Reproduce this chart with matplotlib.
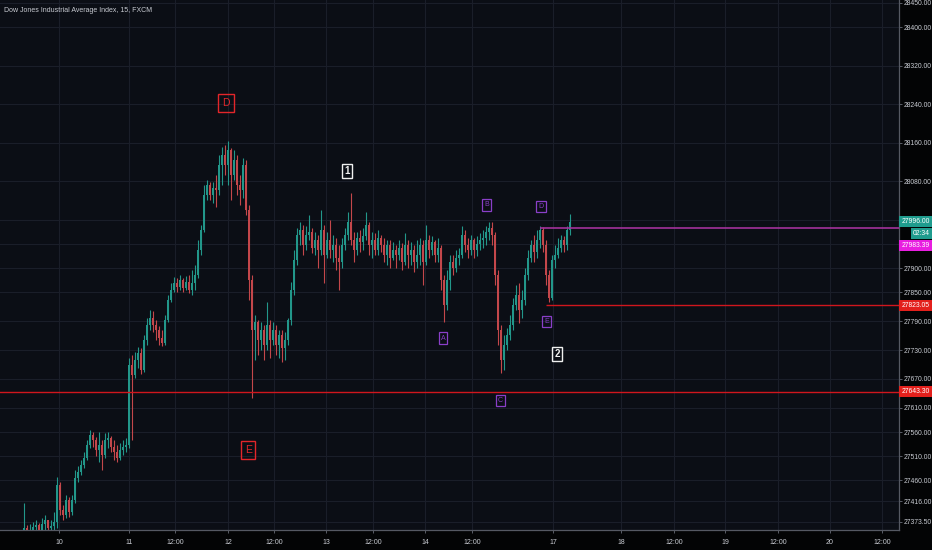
import matplotlib
matplotlib.use("Agg")
import matplotlib.pyplot as plt
import matplotlib.transforms as mtransforms
import numpy as np

# ---------------- data (prices) ----------------
first_open = 27357
closes = [27361, 27353, 27357, 27363, 27367, 27357, 27369, 27378, 27361, 27365,
          27373, 27450, 27398, 27388, 27419, 27394, 27419, 27465, 27477, 27492,
          27506, 27533, 27554, 27543, 27523, 27533, 27512, 27543, 27548, 27529,
          27519, 27506, 27523, 27529, 27533, 27699, 27678, 27709, 27724, 27689,
          27751, 27782, 27796, 27782, 27772, 27755, 27745, 27792, 27834, 27855,
          27869, 27861, 27875, 27859, 27871, 27855, 27869, 27886, 27937, 27979,
          28052, 28072, 28052, 28066, 28062, 28114, 28135, 28114, 28145, 28093,
          28124, 28072, 28062, 28114, 28020, 27875, 27772, 27788, 27751, 27772,
          27740, 27782, 27751, 27772, 27740, 27761, 27734, 27751, 27792, 27855,
          27917, 27969, 27979, 27948, 27969, 27975, 27942, 27958, 27937, 27979,
          27927, 27958, 27937, 27948, 27921, 27913, 27948, 27969, 27996, 27958,
          27937, 27962, 27954, 27967, 27989, 27948, 27958, 27937, 27962, 27948,
          27927, 27948, 27921, 27937, 27927, 27942, 27913, 27948, 27927, 27937,
          27913, 27927, 27948, 27913, 27958, 27937, 27954, 27927, 27942, 27875,
          27823, 27875, 27913, 27900, 27921, 27927, 27969, 27948, 27937, 27958,
          27937, 27950, 27958, 27962, 27975, 27983, 27969, 27886, 27772, 27709,
          27740, 27761, 27782, 27823, 27844, 27813, 27834, 27886, 27921, 27948,
          27933, 27958, 27979, 27948, 27886, 27838, 27917, 27927, 27942, 27958,
          27948, 27979, 27996]
highs = [27413, 27367, 27369, 27373, 27378, 27371, 27382, 27388, 27373, 27378,
         27394, 27467, 27456, 27409, 27429, 27425, 27429, 27481, 27490, 27502,
         27519, 27543, 27564, 27560, 27550, 27560, 27543, 27558, 27560, 27552,
         27543, 27533, 27537, 27543, 27548, 27714, 27720, 27726, 27736, 27734,
         27761, 27796, 27813, 27811, 27792, 27780, 27772, 27803, 27844, 27869,
         27881, 27879, 27886, 27879, 27884, 27886, 27896, 27906, 27958, 27989,
         28072, 28083, 28079, 28079, 28093, 28135, 28151, 28155, 28164, 28149,
         28145, 28135, 28093, 28128, 28124, 28031, 27886, 27803, 27792, 27788,
         27782, 27830, 27792, 27788, 27782, 27772, 27772, 27767, 27796, 27871,
         27937, 27983, 27996, 27989, 27987, 28010, 27983, 27975, 27969, 28020,
         27989, 27975, 28000, 27969, 27962, 27948, 27962, 27983, 28016, 28056,
         27975, 27975, 27979, 27983, 28016, 27996, 27975, 27973, 27979, 27969,
         27962, 27958, 27958, 27954, 27948, 27958, 27952, 27973, 27958, 27954,
         27948, 27958, 27962, 27958, 27989, 27969, 27967, 27958, 27962, 27948,
         27886, 27896, 27927, 27927, 27937, 27942, 27987, 27979, 27962, 27969,
         27962, 27967, 27973, 27979, 27987, 27996, 27996, 27975, 27896, 27782,
         27761, 27776, 27803, 27838, 27865, 27869, 27855, 27900, 27937, 27958,
         27969, 27979, 27987, 27985, 27958, 27896, 27927, 27948, 27962, 27969,
         27967, 27987, 28012]
lows = [27336, 27326, 27326, 27336, 27346, 27336, 27346, 27353, 27340, 27346,
        27353, 27361, 27388, 27378, 27382, 27384, 27388, 27413, 27456, 27471,
        27485, 27502, 27527, 27529, 27510, 27498, 27481, 27506, 27527, 27519,
        27502, 27498, 27502, 27512, 27519, 27527, 27543, 27672, 27693, 27680,
        27685, 27740, 27772, 27767, 27751, 27740, 27738, 27740, 27788, 27830,
        27850, 27850, 27855, 27850, 27855, 27848, 27844, 27855, 27879, 27927,
        27975, 28041, 28041, 28035, 28027, 28052, 28072, 28093, 28072, 28041,
        28083, 28052, 28031, 28045, 28010, 27834, 27631, 27709, 27720, 27730,
        27709, 27730, 27713, 27740, 27720, 27713, 27705, 27709, 27740, 27782,
        27844, 27906, 27948, 27927, 27937, 27958, 27931, 27927, 27900, 27927,
        27869, 27921, 27921, 27913, 27896, 27855, 27900, 27937, 27958, 27948,
        27913, 27927, 27933, 27937, 27958, 27927, 27921, 27927, 27927, 27933,
        27913, 27906, 27900, 27917, 27900, 27917, 27896, 27906, 27900, 27906,
        27892, 27900, 27906, 27865, 27906, 27921, 27927, 27913, 27913, 27855,
        27788, 27813, 27855, 27886, 27892, 27906, 27921, 27933, 27921, 27927,
        27921, 27925, 27937, 27942, 27948, 27958, 27948, 27865, 27740, 27682,
        27689, 27730, 27751, 27772, 27813, 27786, 27796, 27823, 27875, 27913,
        27913, 27921, 27942, 27933, 27865, 27830, 27834, 27900, 27921, 27933,
        27933, 27937, 27969]

price_ticks = [28450, 28400, 28320, 28240, 28160, 28080, 27900, 27850, 27790,
               27730, 27670, 27610, 27560, 27510, 27460, 27416, 27373.5]
hidden_grid = [28000, 27950]
time_labels = ['10', '11', '12:00', '12', '12:00', '13', '12:00', '14', '12:00',
               '17', '18', '12:00', '19', '12:00', '20', '12:00']
time_pos = [11.67, 35, 50.33, 68, 83.33, 100.67, 116.33, 133.67, 149.33,
            176.33, 199, 216.67, 233.67, 251.33, 268.67, 286]

support_level = 27643.30
e_level = 27823.05
d_level = 27983.39
last_price = 27996.00
countdown = '02:34'

# label annotations: (text, bar position, price, style)
annotations = [
    ('D', 67.3, 28242, 'red'), ('E', 74.7, 27523, 'red'),
    ('1', 107.7, 28101, 'white'), ('2', 177.7, 27722, 'white'),
    ('A', 139.7, 27755, 'purple'), ('B', 154.3, 28031, 'purple'),
    ('C', 158.7, 27626, 'purple'), ('D', 172.3, 28027, 'purple'),
    ('E', 174.3, 27790, 'purple'),
]

# ---------------- styling ----------------
FONT = ['Liberation Sans', 'DejaVu Sans']
plt.rcParams['font.family'] = FONT
BG = '#0b0e15'
UP = '#22978a'
DN = '#c4474b'
GRID = '#1a1e29'
TXT = '#c8cbd2'
LBL = 4.9

fig = plt.figure(figsize=(9.32, 5.5), dpi=100, facecolor='#030405')
ax = fig.add_axes([0, 20 / 550, 899 / 932, 530 / 550])
ax.set_facecolor(BG)

o = np.array([first_open] + closes[:-1], dtype=float)
c = np.array(closes, dtype=float)
h = np.array(highs, dtype=float)
l = np.array(lows, dtype=float)
x = np.arange(len(c))
cols = [UP if cc >= oo else DN for oo, cc in zip(o, c)]

# grid
for yv in price_ticks + hidden_grid:
    ax.axhline(yv, color=GRID, lw=0.8, zorder=0)
for xv in time_pos:
    ax.axvline(xv, color=GRID, lw=0.8, zorder=0)

ax.vlines(x, l, h, colors=cols, linewidth=0.8, zorder=2)
ax.bar(x, np.maximum(np.abs(c - o), 1.0), bottom=np.minimum(o, c), width=0.62,
       color=cols, linewidth=0, zorder=3)

# horizontal levels
ax.axhline(support_level, color='#d0161d', lw=1.0, zorder=4)
ax.hlines(d_level, 172, 292, color='#a3329b', lw=1.2, zorder=4)
ax.hlines(e_level, 174, 292, color='#d0161d', lw=1.0, zorder=4)

ax.set_xlim(-8, 291.667)
ax.set_ylim(27356.8, 28456)

# axes
ax.yaxis.tick_right()
ax.set_yticks(price_ticks + hidden_grid)
ax.set_yticklabels(['%.2f' % v for v in price_ticks] + ['', ''])
ax.set_xticks(time_pos)
ax.set_xticklabels(time_labels)
ax.tick_params(axis='both', colors='#5a5e68', labelcolor=TXT, labelsize=LBL,
               length=2.5, width=0.7)
ax.tick_params(axis='y', pad=1.0)
ax.tick_params(axis='x', pad=4, labelsize=5.0)
for s in ['top', 'left']:
    ax.spines[s].set_visible(False)
for s in ['right', 'bottom']:
    ax.spines[s].set_color('#555963')
    ax.spines[s].set_linewidth(0.9)

# price boxes on the right axis
bt = mtransforms.blended_transform_factory(ax.transAxes, ax.transData)

def price_box(val, text, fc, dy=0, right=False):
    tr = mtransforms.offset_copy(bt, fig=fig, x=0, y=dy, units='dots')
    xx = 1.0 + (31 / 899 if right else 2.5 / 899)
    ax.text(xx, val, text, transform=tr, ha='right' if right else 'left',
            va='center', fontsize=LBL, color='white', clip_on=False, zorder=10,
            bbox=dict(boxstyle='square,pad=0.3', fc=fc, ec='none'))

price_box(last_price, '%.2f' % last_price, '#1f9c8e')
price_box(last_price, countdown, '#1f9c8e', dy=-12, right=True)
price_box(d_level, '%.2f' % d_level, '#e81ee0', dy=-18)
price_box(e_level, '%.2f' % e_level, '#e3201c')
price_box(support_level, '%.2f' % support_level, '#e3201c')

# wave labels
styles = {
    'red': dict(color='#e3262a', fs=7.5, pad=0.38, weight='normal', lw=1.0),
    'white': dict(color='#f0f0f0', fs=7.0, pad=0.22, weight='bold', lw=1.0),
    'purple': dict(color='#8a3fc8', fs=5.0, pad=0.3, weight='normal', lw=0.9),
}
for txt, bx, py, st in annotations:
    s = styles[st]
    ax.text(bx, py, txt, ha='center', va='center', fontsize=s['fs'],
            color=s['color'], fontweight=s['weight'], zorder=8,
            bbox=dict(boxstyle='square,pad=%.2f' % s['pad'], fc='none',
                      ec=s['color'], lw=s['lw']))

fig.text(4 / 932, 1 - 11 / 550, 'Dow Jones Industrial Average Index, 15, FXCM',
         ha='left', va='center', fontsize=5.0, color=TXT)

fig.savefig('out.png', dpi=100, facecolor=fig.get_facecolor())
